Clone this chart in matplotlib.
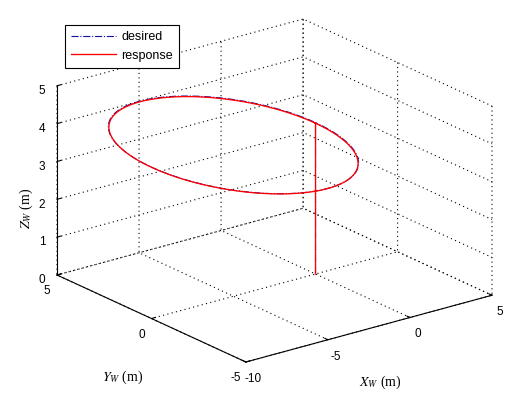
import numpy as np
import matplotlib
matplotlib.use('Agg')
from matplotlib import pyplot as plt
from mpl_toolkits.mplot3d import proj3d

plt.rcParams['font.family'] = ['Liberation Sans', 'DejaVu Sans']
plt.rcParams['mathtext.fontset'] = 'stix'
plt.rcParams['axes.unicode_minus'] = False
plt.rcParams['grid.color'] = 'k'
plt.rcParams['grid.linewidth'] = 0.8

# axes ranges / ticks
x_lim = (-10, 5)
y_lim = (-5, 5)
z_lim = (0, 5)
x_ticks = [-10, -5, 0, 5]
y_ticks = [-5, 0, 5]
z_ticks = [0, 1, 2, 3, 4, 5]

# desired path: climb straight up from take-off point, then one circle at constant height
takeoff_xy = (0.0, 0.0)
desired_alt = 4.0
circle_center = (-5.0, 0.0)
desired_radius = 5.0
# response follows it closely (tiny tracking error)
response_alt = 3.99
response_radius = 4.98


def trajectory(alt, radius):
    climb = np.linspace(0, alt, 30)
    t = np.linspace(0, 2 * np.pi, 300)
    x = np.r_[np.full(climb.size, takeoff_xy[0]), circle_center[0] + radius * np.cos(t)]
    y = np.r_[np.full(climb.size, takeoff_xy[1]), circle_center[1] + radius * np.sin(t)]
    z = np.r_[climb, np.full(t.size, alt)]
    return x, y, z


W, H = 523, 396
fig = plt.figure(figsize=(W / 100, H / 100), dpi=100)
ax = fig.add_axes([0, 0, 1, 1], projection='3d')
ax.computed_zorder = False  # keep response drawn over desired
ax.set_proj_type('ortho')
ax.view_init(elev=20.7, azim=-127.5)
ax.set_box_aspect((1, 1, 0.652))

xd, yd, zd = trajectory(desired_alt, desired_radius)
xr, yr, zr = trajectory(response_alt, response_radius)
ax.plot(xd, yd, zd, color='#1010a0', ls='-.', lw=0.8, label='desired')
ax.plot(xr, yr, zr, color='#ff0000', ls='-', lw=0.95, label='response')

ax.set_xlim(x_lim)
ax.set_ylim(y_lim)
ax.set_zlim(z_lim)
ax.set_xticks(x_ticks)
ax.set_yticks(y_ticks)
ax.set_zticks(z_ticks)
ax.tick_params(labelsize=8.5)
ax.tick_params(axis='x', pad=-1)
ax.tick_params(axis='y', pad=-1)
ax.tick_params(axis='z', pad=-2)

for a in (ax.xaxis, ax.yaxis, ax.zaxis):
    a.pane.fill = False
    a.pane.set_edgecolor('none')
    a.line.set_linewidth(0.8)
    a._axinfo['grid']['linestyle'] = (0, (1, 3))
    a._axinfo['tick']['inward_factor'] = 0.0
    a._axinfo['tick']['outward_factor'] = 0.2

# fit projected box onto the pixel box of the original
fig.canvas.draw()
corners = np.array([(x, y, z) for x in x_lim for y in y_lim for z in z_lim], dtype=float)
px, py, _ = proj3d.proj_transform(corners[:, 0], corners[:, 1], corners[:, 2], ax.get_proj())
fr = ax.transAxes.inverted().transform(ax.transData.transform(np.c_[px, py]))
s = (492 - 57) / (fr[:, 0].max() - fr[:, 0].min())
left = 57 - s * fr[:, 0].min()
bottom = (H - 362) - s * fr[:, 1].min()
ax.set_position([left / W, bottom / H, s / W, s / H])

fig.text(123 / W, 1 - 377 / H, r'$Y_W$ (m)', family='Liberation Serif', fontsize=10, ha='center', va='center')
fig.text(380 / W, 1 - 382 / H, r'$X_W$ (m)', family='Liberation Serif', fontsize=10, ha='center', va='center')
fig.text(26 / W, 1 - 208 / H, r'$Z_W$ (m)', family='Liberation Serif', fontsize=10, ha='center', va='center',
         rotation=90)

ax.legend(loc='upper left', bbox_to_anchor=(65 / W, 1 - 25 / H), bbox_transform=fig.transFigure,
          fontsize=9, fancybox=False, edgecolor='k', framealpha=1, borderaxespad=0,
          handlelength=3.6, handletextpad=0.4, borderpad=0.5, labelspacing=0.5)
ax.get_legend().get_frame().set_linewidth(0.8)

fig.savefig('out.png', dpi=100)
